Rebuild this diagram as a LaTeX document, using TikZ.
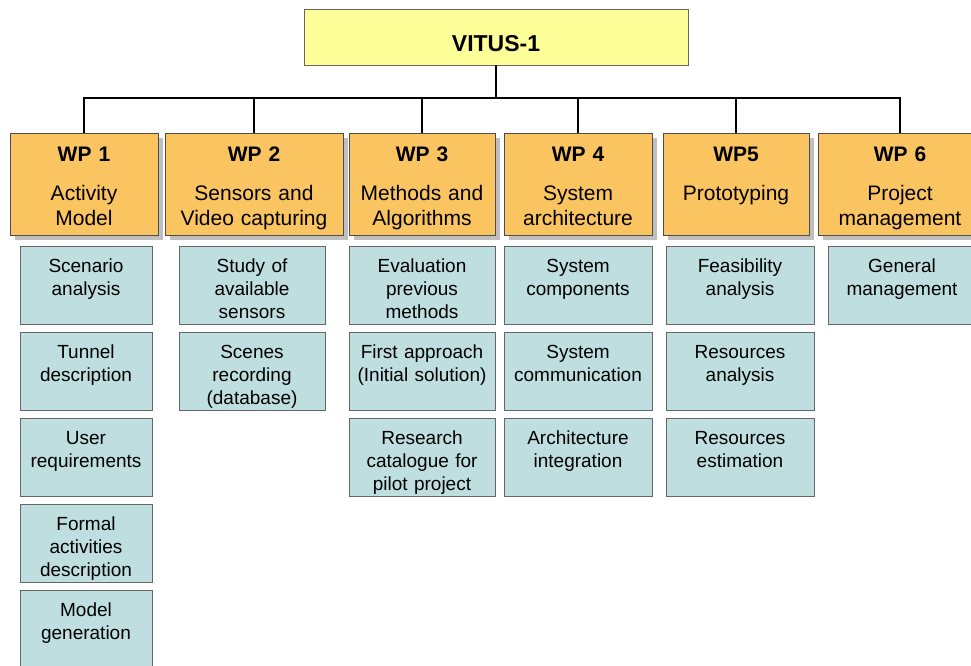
\documentclass[tikz,border=0pt]{standalone}
\usepackage{fontspec}
\setmainfont{Liberation Sans}
\usepackage{xcolor}
\usepackage{tikz}
\usetikzlibrary{shadows}
\definecolor{TopYellow}{RGB}{255,255,153}
\definecolor{WPOrange}{RGB}{250,196,96}
\definecolor{TaskBlue}{RGB}{190,222,224}
\tikzset{
  TopBox/.style={
    rectangle, draw=black!60, fill=TopYellow,
    anchor=north, inner xsep=0pt, inner ysep=0pt,
    font=\fontsize{23}{27}\selectfont\bfseries,
    text width=384pt, align=center, text height=42pt, text depth=14pt,
  },
  WPBox/.style={
    rectangle, draw=black!70, fill=WPOrange,
    drop shadow={shadow xshift=5pt, shadow yshift=-5pt, fill=black!25, opacity=1},
    anchor=north, inner xsep=0pt, inner ysep=0pt,
    font=\fontsize{21}{25}\selectfont,
    align=center, text height=28pt, text depth=74pt,
  },
  TaskBox/.style={
    rectangle, draw=black!60, fill=TaskBlue,
    anchor=north, inner xsep=0pt, inner ysep=0pt,
    font=\fontsize{19}{23}\selectfont,
    align=center, text height=26pt, text depth=52pt,
  },
}
\begin{document}
\begin{tikzpicture}[x=1pt, y=-1pt]
\useasboundingbox (0,0) rectangle (971,666);
\node[TopBox] (TOP) at (496,9) {VITUS-1};
\node[WPBox, text width=148pt] (WP1) at (84,133) {\textbf{WP 1}\\[14pt]Activity\\Model};
\node[WPBox, text width=178pt] (WP2) at (254,133) {\textbf{WP 2}\\[14pt]Sensors and\\Video capturing};
\node[WPBox, text width=146pt] (WP3) at (422,133) {\textbf{WP 3}\\[14pt]Methods and\\Algorithms};
\node[WPBox, text width=148pt] (WP4) at (578,133) {\textbf{WP 4}\\[14pt]System\\architecture};
\node[WPBox, text width=146pt] (WP5) at (736,133) {\textbf{WP5}\\[14pt]Prototyping};
\node[WPBox, text width=164pt] (WP6) at (900,133) {\textbf{WP 6}\\[14pt]Project\\management};
% WP 1
\node[TaskBox, text width=132pt] (SCEN) at (86,246) {Scenario\\analysis};
\node[TaskBox, text width=132pt] (TUN) at (86,332) {Tunnel\\description};
\node[TaskBox, text width=132pt] (USER) at (86,418) {User\\requirements};
\node[TaskBox, text width=132pt] (FORM) at (86,504) {Formal\\activities\\description};
\node[TaskBox, text width=132pt] (MODEL) at (86,590) {Model\\generation};
% WP 2
\node[TaskBox, text width=146pt] (STUDY) at (252,246) {Study of\\available\\sensors};
\node[TaskBox, text width=146pt] (REC) at (252,332) {Scenes\\recording\\(database)};
% WP 3
\node[TaskBox, text width=146pt] (EVAL) at (422,246) {Evaluation\\previous\\methods};
\node[TaskBox, text width=146pt] (FIRST) at (422,332) {First approach\\(Initial solution)};
\node[TaskBox, text width=146pt] (RES) at (422,418) {Research\\catalogue for\\pilot project};
% WP 4
\node[TaskBox, text width=148pt] (COMP) at (578,246) {System\\components};
\node[TaskBox, text width=148pt] (COMM) at (578,332) {System\\communication};
\node[TaskBox, text width=148pt] (INTEG) at (578,418) {Architecture\\integration};
% WP 5
\node[TaskBox, text width=148pt] (FEAS) at (740,246) {Feasibility\\analysis};
\node[TaskBox, text width=148pt] (RANA) at (740,332) {Resources\\analysis};
\node[TaskBox, text width=148pt] (REST) at (740,418) {Resources\\estimation};
% WP 6
\node[TaskBox, text width=148pt] (GEN) at (902,246) {General\\management};
\draw[line width=1.8pt] (TOP.south) -- ++(0,33) coordinate (BUS);
\foreach \n in {1,...,6}
  \draw[line width=1.8pt] (BUS) -| (WP\n.north);
\end{tikzpicture}
\end{document}
